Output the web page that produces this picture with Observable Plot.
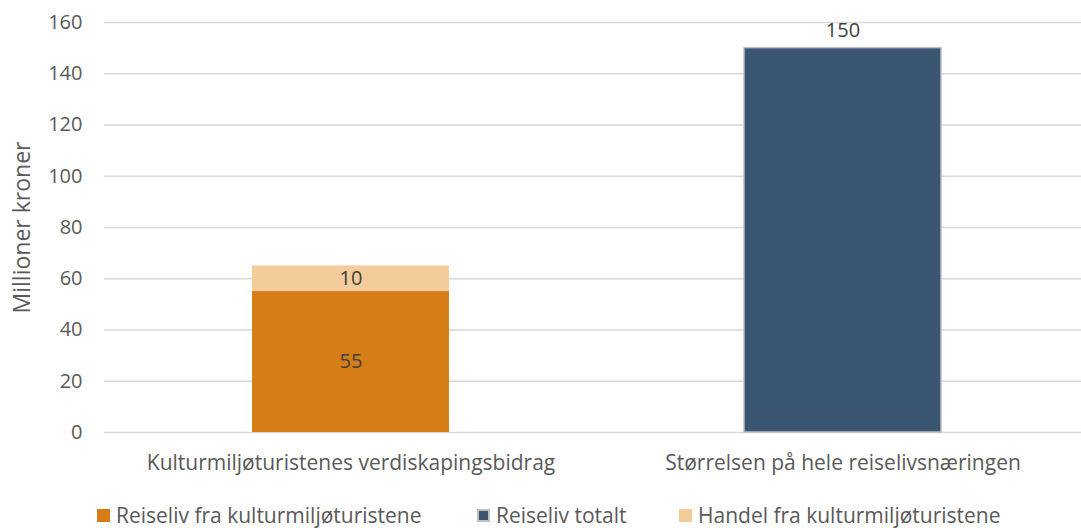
<!DOCTYPE html>
<html><head><meta charset="utf-8">
<script src="https://cdn.jsdelivr.net/npm/d3@7"></script>
<script src="https://cdn.jsdelivr.net/npm/@observablehq/plot@0.6"></script>
<style>
body{margin:0;background:#fff;font-family:"Open Sans",sans-serif;}
#legend{position:relative;height:48px;width:1081px;font-size:21px;color:#595959;}
.li{position:absolute;top:21px;display:flex;align-items:center;white-space:nowrap;line-height:28px;}
.sw{width:13px;height:13px;margin-right:6px;box-sizing:border-box;}
</style></head>
<body><div id="chart"></div><div id="legend"></div>
<script>
const categories = ["Kulturmiljøturistenes verdiskapingsbidrag", "Størrelsen på hele reiselivsnæringen"];
const seriesNames = ["Reiseliv fra kulturmiljøturistene", "Reiseliv totalt", "Handel fra kulturmiljøturistene"];
const seriesColors = ["#D67D17", "#3A5673", "#F4CB9A"];
const reiselivKultur = [55, 0];
const reiselivTotalt = [0, 150];
const handelKultur = [10, 0];
const yTicks = [0, 20, 40, 60, 80, 100, 120, 140, 160];

const rows = [];
categories.forEach((c, i) => {
  [reiselivKultur, reiselivTotalt, handelKultur].forEach((arr, s) => {
    if (arr[i] > 0) rows.push({cat: c, series: seriesNames[s], value: arr[i]});
  });
});

const chart = Plot.plot({
  width: 1081, height: 480,
  marginLeft: 104, marginRight: 0, marginTop: 22, marginBottom: 48,
  style: {fontFamily: "Open Sans, sans-serif", fontSize: "20px", color: "#595959", background: "#fff"},
  x: {domain: categories, range: [104, 1088], paddingInner: 0.6, paddingOuter: 0.3, label: null},
  y: {domain: [0, 160], label: null},
  color: {domain: seriesNames, range: seriesColors},
  marks: [
    Plot.ruleY(yTicks, {stroke: "#d9d9d9", strokeWidth: 1.3}),
    Plot.axisY({ticks: yTicks, tickSize: 0, tickPadding: 22, label: null, fontSize: 20, fill: "#595959"}),
    Plot.axisX({tickSize: 0, tickPadding: 23, label: null, fontSize: 21, fill: "#595959"}),
    Plot.barY(rows, Plot.stackY({x: "cat", y: "value", fill: "series", order: seriesNames,
      stroke: d => d.series === "Reiseliv totalt" ? "#bfbfbf" : "none", strokeWidth: 1.5})),
    Plot.text(rows.filter(d => d.series !== "Reiseliv totalt"), Plot.stackY({x: "cat", y: "value", order: seriesNames, z: "series", text: d => String(d.value), fill: "#404040", fontSize: 20})),
    Plot.text(rows.filter(d => d.series === "Reiseliv totalt"), {x: "cat", y: "value", text: d => String(d.value), dy: -18, fill: "#404040", fontSize: 20}),
    Plot.text(["Millioner kroner"], {frameAnchor: "left", textAnchor: "middle", dx: -82, y: 80, rotate: -90, fontSize: 23, fill: "#595959", text: d => d})
  ]
});
document.getElementById("chart").appendChild(chart);

const legendPos = [97, 477, 679];
const lg = document.getElementById("legend");
seriesNames.forEach((n, i) => {
  const d = document.createElement("div");
  d.className = "li";
  d.style.left = legendPos[i] + "px";
  const sw = document.createElement("div");
  sw.className = "sw";
  sw.style.background = seriesColors[i];
  if (n === "Reiseliv totalt") sw.style.border = "2px solid #bfbfbf";
  d.appendChild(sw);
  const t = document.createElement("span");
  t.textContent = n;
  d.appendChild(t);
  lg.appendChild(d);
});
</script></body></html>
